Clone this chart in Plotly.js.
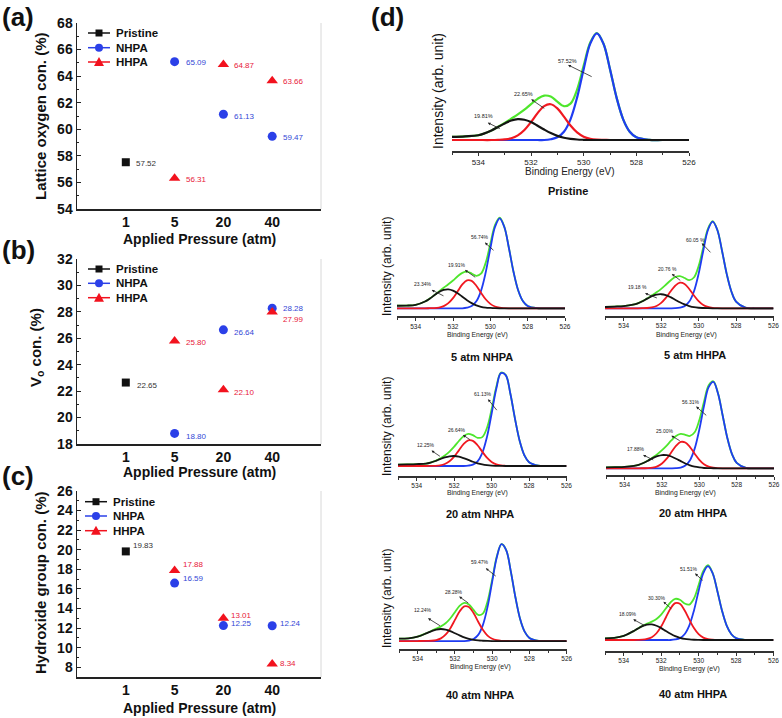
<!DOCTYPE html>
<html>
<head>
<meta charset="utf-8">
<script src="https://cdn.plot.ly/plotly-3.0.1.min.js"></script>
<style>html,body{margin:0;padding:0;background:#fff}#chart{width:782px;height:718px}</style>
</head>
<body>
<div id="chart"></div>
<script>
// ================= DATA =================
const pressures = ['1', '5', '20', '40'];
const pristineX = ['1'];
const treatedX = ['5', '20', '40'];

const latticePristine = [57.52];
const latticeNHPA = [65.09, 61.13, 59.47];
const latticeHHPA = [56.31, 64.87, 63.66];

const vacancyPristine = [22.65];
const vacancyNHPA = [18.80, 26.64, 28.28];
const vacancyHHPA = [25.80, 22.10, 27.99];

const hydroxPristine = [19.83];
const hydroxNHPA = [16.59, 12.25, 12.24];
const hydroxHHPA = [17.88, 13.01, 8.34];

const seriesNames = ['Pristine', 'NHPA', 'HHPA'];

// O 1s spectra (binding energy in eV, intensity in arb. units)
const bindingEnergy = [535, 534.5, 534, 533.5, 533.25, 533, 532.75, 532.5, 532.25, 532, 531.75, 531.5, 531.25, 531, 530.75, 530.5, 530.25, 530, 529.75, 529.5, 529.25, 529, 528.75, 528.5, 528.25, 528, 527.5, 527, 526];

const pristineHydroxide = [3.0,3.5,4.5,9.0,12.2,15.5,18.3,19.6,19.0,16.8,13.4,9.8,6.5,3.9,2.1,1.1,0.5,0.2,0,0,0,0,0,0,0,0,0,0,0];
const pristineVacancy  = [0,0,0,0,0.2,0.6,1.7,4.4,9.4,16.8,25.2,31.8,33.5,29.6,21.9,13.6,7.1,3.1,1.1,0.3,0.1,0,0,0,0,0,0,0,0];
const pristineLattice  = [0,0,0,0,0,0,0,0,0,0,0,0,0.7,2.5,7.7,19.4,39.7,66.4,90.3,100,90.3,66.4,39.7,19.4,7.7,2.5,0.1,0,0];
const pristineEnvelope = [3.0,3.5,4.5,9.0,12.4,16.1,20.0,24.0,28.4,33.6,38.6,41.6,40.7,36.0,31.7,34.1,47.3,69.7,91.4,100.3,90.4,66.4,39.7,19.4,7.7,2.5,0.1,0,0];

const nhpa5Hydroxide = [2.8,3.0,3.8,7.6,10.7,14.4,18.0,20.4,21.0,19.6,16.7,12.9,9.0,5.7,3.3,1.7,0.8,0.4,0.1,0,0,0,0,0,0,0,0,0,0];
const nhpa5Vacancy  = [0,0,0,0,0.1,0.2,0.8,2.4,5.7,11.3,18.9,26.5,31.1,30.5,25.1,17.3,10.0,4.9,2.0,0.7,0.2,0,0,0,0,0,0,0,0];
const nhpa5Lattice  = [0,0,0,0,0,0,0,0,0,0,0,0,0.7,2.5,7.7,19.4,39.7,66.4,90.3,100,90.3,66.4,39.7,19.4,7.7,2.5,0.1,0,0];
const nhpa5Envelope = [2.8,3.0,3.8,7.6,10.8,14.6,18.8,22.8,26.7,30.9,35.6,39.4,40.8,38.7,36.1,38.4,50.5,71.7,92.4,100.7,90.5,66.4,39.7,19.4,7.7,2.5,0.1,0,0];

const hhpa5Hydroxide = [1.5,2.0,2.6,4.2,5.7,8.1,11.1,13.9,15.7,16.2,15.1,12.8,9.9,6.9,4.4,2.6,1.3,0.6,0.3,0.1,0,0,0,0,0,0,0,0,0];
const hhpa5Vacancy  = [0,0,0,0,0,0.1,0.3,1.0,2.7,6.2,12.0,19.3,26.0,29.5,28.0,22.2,14.8,8.3,3.8,1.5,0.5,0.1,0,0,0,0,0,0,0];
const hhpa5Lattice  = [0,0,0,0,0,0,0,0,0,0,0,0,0.1,0.7,2.5,7.7,19.4,39.7,66.4,90.3,100,90.3,66.4,39.7,19.4,7.7,0.7,0,0];
const hhpa5Envelope = [1.5,2.0,2.6,4.2,5.7,8.2,11.4,14.9,18.4,22.4,27.1,32.1,36.0,37.1,34.9,32.5,35.5,48.6,70.5,91.9,100.5,90.4,66.4,39.7,19.4,7.7,0.7,0,0];

const nhpa20Hydroxide = [1.5,1.7,2.0,2.6,3.7,5.3,7.3,9.1,10.3,10.6,9.9,8.4,6.5,4.5,2.9,1.7,0.9,0.4,0.2,0.1,0,0,0,0,0,0,0,0,0];
const nhpa20Vacancy  = [0,0,0,0,0.1,0.2,0.7,2.1,5.0,9.9,16.6,23.2,27.2,26.7,22.0,15.2,8.8,4.3,1.7,0.6,0.2,0,0,0,0,0,0,0,0];
const nhpa20Lattice  = [0,0,0,0,0,0,0,0,0,0,0,0,0.4,1.5,5.0,13.7,30.6,55.4,81.8,98.4,96.4,76.9,50.0,26.5,11.4,4.0,0.3,0,0];
const nhpa20Envelope = [1.5,1.7,2.0,2.6,3.8,5.5,8.0,11.2,15.3,20.5,26.5,31.6,34.1,32.7,29.9,30.6,40.3,60.1,83.7,99.1,96.6,76.9,50.0,26.5,11.4,4.0,0.3,0,0];

const hhpa20Hydroxide = [1.2,1.4,1.7,2.8,4.0,6.1,8.8,11.7,14.0,15.3,15.1,13.6,11.1,8.3,5.6,3.4,1.9,1.0,0.4,0.2,0.1,0,0,0,0,0,0,0,0];
const hhpa20Vacancy  = [0,0,0,0,0,0.1,0.2,0.8,2.3,5.6,11.1,18.5,25.9,30.4,29.8,24.5,16.9,9.8,4.7,1.9,0.7,0.2,0,0,0,0,0,0,0];
const hhpa20Lattice  = [0,0,0,0,0,0,0,0,0,0,0,0,0.2,0.9,3.2,9.4,22.7,44.8,71.7,93.6,99.6,86.3,60.9,35.0,16.4,6.3,0.5,0,0];
const hhpa20Envelope = [1.2,1.4,1.7,2.8,4.0,6.2,9.0,12.5,16.3,20.9,26.2,32.1,37.2,39.6,38.6,37.3,41.5,55.6,76.8,95.7,100.4,86.5,60.9,35.0,16.4,6.3,0.5,0,0];

const nhpa40Hydroxide = [2.5,2.8,4.5,8.2,10.2,11.8,12.4,11.8,10.2,8.0,5.8,3.7,2.2,1.2,0.6,0.3,0.1,0,0,0,0,0,0,0,0,0,0,0,0];
const nhpa40Vacancy  = [0,0,0,0.1,0.3,1.0,2.7,6.5,13.0,21.7,30.4,35.6,35.0,28.8,19.9,11.5,5.6,2.3,0.8,0.2,0.1,0,0,0,0,0,0,0,0];
const nhpa40Lattice  = [0,0,0,0,0,0,0,0,0,0,0,0,0.5,2.0,6.3,16.4,35.0,60.9,86.3,99.6,93.6,71.7,44.8,22.7,9.4,3.2,0.2,0,0];
const nhpa40Envelope = [2.5,2.8,4.5,8.3,10.5,12.8,15.1,18.3,23.2,29.7,36.2,39.3,37.7,32.0,26.8,28.2,40.7,63.2,87.1,99.8,93.7,71.7,44.8,22.7,9.4,3.2,0.2,0,0];

const hhpa40Hydroxide = [2.3,3.0,5.5,11.7,15.4,18.7,20.8,21.0,19.3,16.1,12.2,8.4,5.2,3.0,1.5,0.7,0.3,0.1,0,0,0,0,0,0,0,0,0,0,0];
const hhpa40Vacancy  = [0,0,0,0,0.1,0.4,1.4,3.8,9.1,18.2,30.4,42.5,49.8,48.9,40.2,27.8,16.1,7.8,3.2,1.1,0.3,0,0,0,0,0,0,0,0];
const hhpa40Lattice  = [0,0,0,0,0,0,0,0,0,0,0,0,0.7,2.5,7.7,19.4,39.7,66.4,90.3,100,90.3,66.4,39.7,19.4,7.7,2.5,0.1,0,0];
const hhpa40Envelope = [2.3,3.0,5.5,11.7,15.5,19.1,22.2,24.8,28.4,34.3,42.6,50.9,55.7,54.4,49.4,47.9,56.1,74.3,93.5,101.1,90.6,66.4,39.7,19.4,7.7,2.5,0.1,0,0];

// peak-share labels (hydroxide, vacancy, lattice)
const pristineShares = ['19.81%', '22.65%', '57.52%'];
const nhpa5Shares = ['23.34%', '19.91%', '56.74%'];
const hhpa5Shares = ['19.18 %', '20.76 %', '60.05 %'];
const nhpa20Shares = ['12.25%', '26.64%', '61.13%'];
const hhpa20Shares = ['17.88%', '25.00%', '56.31%'];
const nhpa40Shares = ['12.24%', '28.28%', '59.47%'];
const hhpa40Shares = ['18.09%', '30.30%', '51.51%'];

const spectrumTitles = ['Pristine', '5 atm NHPA', '5 atm HHPA', '20 atm NHPA', '20 atm HHPA', '40 atm NHPA', '40 atm HHPA'];

// ================= STYLE / LAYOUT =================
const FONT = "'Liberation Sans', Arial, Helvetica, sans-serif";
const W = 782, H = 718;
const px = x => x / W;
const py = y => 1 - y / H;
const xd = (a, b) => [a / W, b / W];
const yd = (top, bottom) => [1 - bottom / H, 1 - top / H];

const COL = {
  pristine: '#111111', nhpa: '#2b40e8', hhpa: '#f2121e',
  pristineTxt: '#333333', nhpaTxt: '#3347d6', hhpaTxt: '#e8203a',
  black: '#141414', red: '#f01820', blue: '#1f3cf2', green: '#4ee62c'
};

const traces = [];
const annotations = [];
const shapes = [];
const layout = {
  width: W, height: H,
  margin: {l: 0, r: 0, t: 0, b: 0},
  paper_bgcolor: '#ffffff', plot_bgcolor: 'rgba(0,0,0,0)',
  showlegend: false,
  font: {family: FONT, color: '#111'}
};

// ---------- left scatter panels ----------
const leftPanels = [
  {ax: '', top: 23, bottom: 209, range: [54, 68],
   data: [latticePristine, latticeNHPA, latticeHHPA],
   shifts: [[[8, -1.5]], [[9, -1], [9, -2.5], [9, -1.5]], [[9, -1], [9, -1], [9, -1]]],
   ytitle: 'Lattice oxygen con. (%)', ytx: 40, yty: 116, xtitleY: 239, tag: '(a)', tagY: 17,
   legendRows: [33, 47.7, 62], legX: [88, 110, 99, 114]},
  {ax: '2', top: 259, bottom: 444, range: [18, 32],
   data: [vacancyPristine, vacancyNHPA, vacancyHHPA],
   shifts: [[[9, -3]], [[9, -3], [9, -3], [9, 0]], [[9, -2], [9, -2.5], [9, -8]]],
   ytitle: 'V<sub>o</sub> con. (%)', ytx: 36, yty: 348, xtitleY: 472.5, tag: '(b)', tagY: 250,
   legendRows: [269, 283.3, 297.7], legX: [88, 110, 99, 114]},
  {ax: '3', top: 491, bottom: 677, range: [7, 26],
   data: [hydroxPristine, hydroxNHPA, hydroxHHPA],
   shifts: [[[5, 6]], [[6, 5], [6, 2], [6, 2]], [[6, 6], [6, 3], [6, 0]]],
   ytitle: 'Hydroxide group con. (%)', ytx: 40, yty: 583, xtitleY: 708, tag: '(c)', tagY: 476,
   legendRows: [501.7, 516, 530.7], legX: [85, 107, 96, 111]}
];

const markerStyles = [
  {symbol: 'square', size: 8, color: COL.pristine},
  {symbol: 'circle', size: 9, color: COL.nhpa},
  {symbol: 'triangle-up', size: 10, color: COL.hhpa}
];
const txtCols = [COL.pristineTxt, COL.nhpaTxt, COL.hhpaTxt];
const lineCols = [COL.pristine, COL.nhpa, COL.hhpa];

leftPanels.forEach(p => {
  const xa = 'x' + p.ax, ya = 'y' + p.ax;
  const xs = [pristineX, treatedX, treatedX];
  layout['xaxis' + p.ax] = {
    domain: xd(77, 321), anchor: ya, type: 'category', categoryarray: pressures,
    range: [-1, 4], showline: true, linecolor: '#222', linewidth: 1.5, ticks: '',
    tickfont: {family: FONT, size: 14, weight: 'bold', color: '#111'},
    showgrid: false, zeroline: false, fixedrange: true
  };
  layout['yaxis' + p.ax] = {
    domain: yd(p.top, p.bottom), anchor: xa, range: p.range, dtick: 2, tick0: 0,
    showline: true, linecolor: '#222', linewidth: 1.5, ticks: 'inside', ticklen: 4, tickcolor: '#222',
    minor: {dtick: 1, tick0: 0, ticks: 'inside', ticklen: 2, tickcolor: '#222'},
    tickfont: {family: FONT, size: 14, weight: 'bold', color: '#111'},
    showgrid: false, zeroline: false, fixedrange: true
  };
  p.data.forEach((vals, s) => {
    traces.push({
      type: 'scatter', mode: 'markers', x: xs[s], y: vals, xaxis: xa, yaxis: ya,
      name: seriesNames[s], marker: markerStyles[s], hoverinfo: 'skip', cliponaxis: false
    });
    vals.forEach((v, i) => {
      annotations.push({
        xref: xa, yref: ya, x: pressures.indexOf(xs[s][i]), y: v, text: v.toFixed(2),
        showarrow: false, xanchor: 'left', yanchor: 'middle',
        xshift: p.shifts[s][i][0], yshift: p.shifts[s][i][1],
        font: {family: FONT, size: 8, color: txtCols[s]}
      });
    });
  });
  // faint right frame line
  shapes.push({type: 'line', xref: 'paper', yref: 'paper', x0: px(321), x1: px(321), y0: py(p.top), y1: py(p.bottom),
    line: {color: '#d8d8d8', width: 1}});
  // y title, x title, panel tag
  annotations.push({xref: 'paper', yref: 'paper', x: px(p.ytx), y: py(p.yty), text: p.ytitle, textangle: -90,
    showarrow: false, xanchor: 'center', yanchor: 'middle', font: {family: FONT, size: 15, weight: 'bold', color: '#111'}});
  annotations.push({xref: 'paper', yref: 'paper', x: px(199), y: py(p.xtitleY), text: 'Applied Pressure (atm)',
    showarrow: false, xanchor: 'center', yanchor: 'middle', font: {family: FONT, size: 14, weight: 'bold', color: '#111'}});
  annotations.push({xref: 'paper', yref: 'paper', x: px(18), y: py(p.tagY), text: p.tag,
    showarrow: false, xanchor: 'center', yanchor: 'middle', font: {family: FONT, size: 26, weight: 'bold', color: '#111'}});
  // manual legend
  const [lx0, lx1, mx, tx] = p.legX;
  p.legendRows.forEach((ry, s) => {
    shapes.push({type: 'line', xref: 'paper', yref: 'paper', x0: px(lx0), x1: px(lx1), y0: py(ry), y1: py(ry),
      line: {color: lineCols[s], width: 1.5}});
    if (s === 0) {
      shapes.push({type: 'rect', xref: 'paper', yref: 'paper', x0: px(mx - 3.5), x1: px(mx + 3.5), y0: py(ry + 3.5), y1: py(ry - 3.5),
        fillcolor: lineCols[s], line: {width: 0}});
    } else if (s === 1) {
      shapes.push({type: 'circle', xref: 'paper', yref: 'paper', x0: px(mx - 4), x1: px(mx + 4), y0: py(ry + 4), y1: py(ry - 4),
        fillcolor: lineCols[s], line: {width: 0}});
    } else {
      shapes.push({type: 'path', xref: 'paper', yref: 'paper',
        path: `M ${px(mx - 5)},${py(ry + 4)} L ${px(mx + 5)},${py(ry + 4)} L ${px(mx)},${py(ry - 5)} Z`,
        fillcolor: lineCols[s], line: {width: 0}});
    }
    annotations.push({xref: 'paper', yref: 'paper', x: px(tx), y: py(ry), text: seriesNames[s], showarrow: false,
      xanchor: 'left', yanchor: 'middle', font: {family: FONT, size: 11.5, weight: 'bold', color: '#111'}});
  });
});

annotations.push({xref: 'paper', yref: 'paper', x: px(387), y: py(17), text: '(d)',
  showarrow: false, xanchor: 'center', yanchor: 'middle', font: {family: FONT, size: 26, weight: 'bold', color: '#111'}});

// ---------- XPS panels ----------
const xpsPanels = [
  {n: 4, curves: [pristineHydroxide, pristineVacancy, pristineLattice, pristineEnvelope], shares: pristineShares,
   x: [452, 689], y: [22, 151], yr: [-10.3, 110.6], lw: 2.2, tick: 8, pct: 5.5,
   be: [570, 172, 10], title: [568, 191], yt: [438, 91, 14],
   arrows: [[533.81, 22.5, 533.64, 16.2, 533.13, 10.0], [532.27, 43.1, 531.99, 38.1, 531.44, 28.7], [530.6, 74.4, 530.59, 70.3, 529.64, 58.7]]},
  {n: 5, curves: [nhpa5Hydroxide, nhpa5Vacancy, nhpa5Lattice, nhpa5Envelope], shares: nhpa5Shares,
   x: [397, 565], y: [212, 316.3], yr: [-8.9, 107], lw: 1.8, tick: 6.5, pct: 5,
   be: [477, 335, 6.8], title: [482, 357], yt: [387, 267, 12],
   arrows: [[533.62, 27, 533.14, 20.4, 532.43, 13], [531.77, 47.8, 531.36, 42.6, 530.73, 33.3], [530.55, 78.9, 530.29, 73, 529.75, 63]]},
  {n: 6, curves: [hhpa5Hydroxide, hhpa5Vacancy, hhpa5Lattice, hhpa5Envelope], shares: hhpa5Shares,
   x: [605, 773.5], y: [212, 316], yr: [-8.9, 111], lw: 1.8, tick: 6.5, pct: 5,
   be: [686, 335, 6.8], title: [695, 355], yt: null,
   arrows: [[533.27, 24.2, 532.86, 17.3, 532.15, 11.2], [531.67, 45, 531.43, 39.6, 530.9, 30.8], [530.19, 78.8, 529.83, 75, 529.29, 62.7]]},
  {n: 7, curves: [nhpa20Hydroxide, nhpa20Vacancy, nhpa20Lattice, nhpa20Envelope], shares: nhpa20Shares,
   x: [398, 566.5], y: [366, 476], yr: [-10.6, 106], lw: 1.8, tick: 6.5, pct: 5,
   be: [477, 493, 6.8], title: [480, 514], yt: [387, 427, 12],
   arrows: [[533.48, 21.9, 533.21, 16.3, 532.68, 9.2], [531.85, 38.2, 531.53, 32.9, 531.08, 26.9], [530.46, 76.3, 530.19, 70.7, 529.66, 57.6]]},
  {n: 8, curves: [hhpa20Hydroxide, hhpa20Vacancy, hhpa20Lattice, hhpa20Envelope], shares: hhpa20Shares,
   x: [606, 774], y: [366, 475], yr: [-7.7, 118], lw: 1.8, tick: 6.5, pct: 5,
   be: [685, 493, 6.8], title: [693, 513], yt: null,
   arrows: [[533.37, 22.7, 533.01, 15.4, 532.39, 8.8], [531.86, 43.5, 531.5, 37.7, 530.97, 30.8], [530.47, 76.5, 530.17, 71.2, 529.55, 59.6]]},
  {n: 9, curves: [nhpa40Hydroxide, nhpa40Vacancy, nhpa40Lattice, nhpa40Envelope], shares: nhpa40Shares,
   x: [399, 566.7], y: [538, 649], yr: [-8.2, 106], lw: 1.8, tick: 6.5, pct: 5,
   be: [480, 667, 6.8], title: [480, 695], yt: [387, 599, 12],
   arrows: [[533.71, 32, 533.44, 23.4, 532.72, 14.8], [532.06, 50.5, 531.77, 45.7, 531.2, 38], [530.66, 81.4, 530.34, 74.9, 529.73, 65.6]]},
  {n: 10, curves: [hhpa40Hydroxide, hhpa40Vacancy, hhpa40Lattice, hhpa40Envelope], shares: hhpa40Shares,
   x: [605, 773.5], y: [538, 651], yr: [-14.9, 138], lw: 1.8, tick: 6.5, pct: 5,
   be: [689, 669, 6.8], title: [693, 694], yt: null,
   arrows: [[533.75, 35, 533.49, 27.9, 532.77, 18], [532.2, 57.2, 531.88, 51.8, 531.38, 40.5], [530.49, 95.5, 530.19, 90, 529.7, 78.8]]}
];

xpsPanels.forEach((p, k) => {
  const xa = 'x' + p.n, ya = 'y' + p.n;
  layout['xaxis' + p.n] = {
    domain: xd(p.x[0], p.x[1]), anchor: ya, range: [535, 526], dtick: 2, tick0: 526,
    showline: true, linecolor: '#333', linewidth: 1.5, ticks: 'outside', ticklen: 3, tickcolor: '#333', tickwidth: 1,
    minor: {dtick: 1, tick0: 526, ticks: 'outside', ticklen: 2, tickcolor: '#333'},
    tickfont: {family: FONT, size: p.tick, color: '#222'},
    showgrid: false, zeroline: false, fixedrange: true
  };
  layout['yaxis' + p.n] = {domain: yd(p.y[0], p.y[1]), anchor: xa, range: p.yr, visible: false, fixedrange: true};
  const order = [[3, COL.green], [2, COL.blue], [1, COL.red], [0, COL.black]];
  order.forEach(([ci, c]) => {
    traces.push({type: 'scatter', mode: 'lines', x: bindingEnergy, y: p.curves[ci], xaxis: xa, yaxis: ya,
      line: {color: c, width: p.lw, shape: 'spline', smoothing: 1}, hoverinfo: 'skip'});
  });
  p.arrows.forEach((a, j) => {
    annotations.push({xref: xa, yref: ya, x: a[0], y: a[1], text: p.shares[j], showarrow: false,
      xanchor: 'center', yanchor: 'middle', font: {family: FONT, size: p.pct, color: '#222'}});
    annotations.push({xref: xa, yref: ya, x: a[2], y: a[3], axref: xa, ayref: ya, ax: a[4], ay: a[5], text: '',
      showarrow: true, arrowhead: 2, arrowsize: 0.7, arrowwidth: 0.8, arrowcolor: '#222'});
  });
  annotations.push({xref: 'paper', yref: 'paper', x: px(p.be[0]), y: py(p.be[1]), text: 'Binding Energy (eV)',
    showarrow: false, xanchor: 'center', yanchor: 'middle', font: {family: FONT, size: p.be[2], color: '#222'}});
  annotations.push({xref: 'paper', yref: 'paper', x: px(p.title[0]), y: py(p.title[1]), text: spectrumTitles[k],
    showarrow: false, xanchor: 'center', yanchor: 'middle', font: {family: FONT, size: 11, weight: 'bold', color: '#111'}});
  if (p.yt) {
    annotations.push({xref: 'paper', yref: 'paper', x: px(p.yt[0]), y: py(p.yt[1]), text: 'Intensity (arb. unit)', textangle: -90,
      showarrow: false, xanchor: 'center', yanchor: 'middle', font: {family: FONT, size: p.yt[2], color: '#111'}});
  }
});

layout.annotations = annotations;
layout.shapes = shapes;

Plotly.newPlot('chart', traces, layout, {displayModeBar: false, staticPlot: true});
</script>
</body>
</html>
